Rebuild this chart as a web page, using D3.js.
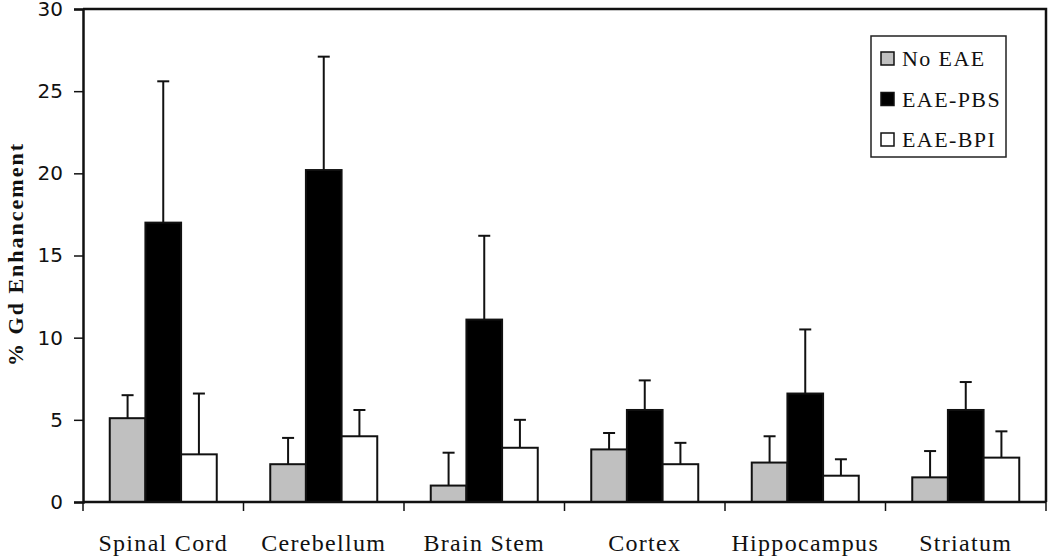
<!DOCTYPE html>
<html>
<head>
<meta charset="utf-8">
<script src="https://cdn.jsdelivr.net/npm/d3@7"></script>
<style>
  body { margin: 0; background: #fff; }
  svg { display: block; }
</style>
</head>
<body>
<div id="chart"></div>
<script>
const regions = ['Spinal Cord', 'Cerebellum', 'Brain Stem', 'Cortex', 'Hippocampus', 'Striatum'];
const groups = ['No EAE', 'EAE-PBS', 'EAE-BPI'];
const noEae = [5.1, 2.3, 1.0, 3.2, 2.4, 1.5];
const eaePbs = [17.0, 20.2, 11.1, 5.6, 6.6, 5.6];
const eaeBpi = [2.9, 4.0, 3.3, 2.3, 1.6, 2.7];
const noEaeErr = [1.4, 1.6, 2.0, 1.0, 1.6, 1.6];
const eaePbsErr = [8.6, 6.9, 5.1, 1.8, 3.9, 1.7];
const eaeBpiErr = [3.7, 1.6, 1.7, 1.3, 1.0, 1.6];
const yTicks = [0, 5, 10, 15, 20, 25, 30];

const fills = { 'No EAE': '#c0c0c0', 'EAE-PBS': '#000000', 'EAE-BPI': '#ffffff' };
const values = [noEae, eaePbs, eaeBpi];
const errs = [noEaeErr, eaePbsErr, eaeBpiErr];

const data = [];
regions.forEach((r, i) => {
  groups.forEach((g, j) => {
    data.push({ region: r, group: g, value: values[j][i], err: errs[j][i] });
  });
});

const W = 1050, H = 559;
const margin = { top: 9, right: 4, bottom: 57, left: 83 };

const svg = d3.select('#chart').append('svg')
  .attr('width', W)
  .attr('height', H);

const x = d3.scaleBand()
  .domain(regions)
  .range([margin.left, W - margin.right])
  .padding(0);

const x1 = d3.scaleBand()
  .domain(groups)
  .range([0, x.bandwidth()])
  .paddingInner(0)
  .paddingOuter(0.75);

const y = d3.scaleLinear()
  .domain([0, 30])
  .range([H - margin.bottom, margin.top]);

const serif = "'Liberation Serif', 'DejaVu Serif', serif";

// frame top and right
svg.append('path')
  .attr('d', `M${margin.left},${margin.top}H${W - margin.right}V${y(0)}`)
  .attr('fill', 'none')
  .attr('stroke', '#111')
  .attr('stroke-width', 2.5);

// y axis
const yAxis = svg.append('g')
  .attr('transform', `translate(${margin.left},0)`)
  .call(d3.axisLeft(y).tickValues(yTicks).tickSize(9).tickPadding(11));
yAxis.select('.domain').attr('stroke', '#111').attr('stroke-width', 2.5);
yAxis.selectAll('.tick line').attr('stroke', '#111').attr('stroke-width', 1.5);
yAxis.selectAll('.tick text')
  .style('font-family', "'DejaVu Sans', sans-serif")
  .style('font-size', '20px')
  .attr('fill', '#111');

// bars
const bars = svg.append('g');
bars.selectAll('rect')
  .data(data)
  .enter().append('rect')
  .attr('x', d => x(d.region) + x1(d.group))
  .attr('y', d => y(d.value))
  .attr('width', x1.bandwidth())
  .attr('height', d => y(0) - y(d.value))
  .attr('fill', d => fills[d.group])
  .attr('stroke', '#111')
  .attr('stroke-width', 2);

// error bars (upper only)
const eb = svg.append('g').attr('stroke', '#111').attr('stroke-width', 2);
eb.selectAll('line.v')
  .data(data)
  .enter().append('line')
  .attr('class', 'v')
  .attr('x1', d => x(d.region) + x1(d.group) + x1.bandwidth() / 2)
  .attr('x2', d => x(d.region) + x1(d.group) + x1.bandwidth() / 2)
  .attr('y1', d => y(d.value))
  .attr('y2', d => y(d.value + d.err));
eb.selectAll('line.cap')
  .data(data)
  .enter().append('line')
  .attr('class', 'cap')
  .attr('x1', d => x(d.region) + x1(d.group) + x1.bandwidth() / 2 - 6)
  .attr('x2', d => x(d.region) + x1(d.group) + x1.bandwidth() / 2 + 6)
  .attr('y1', d => y(d.value + d.err))
  .attr('y2', d => y(d.value + d.err));

// x axis: line with ticks on category boundaries
const xAxis = svg.append('g');
xAxis.append('line')
  .attr('x1', margin.left).attr('x2', W - margin.right)
  .attr('y1', y(0)).attr('y2', y(0))
  .attr('stroke', '#111').attr('stroke-width', 2.5);
const bounds = regions.map(r => x(r)).concat([x.range()[1]]);
xAxis.selectAll('line.tick')
  .data(bounds)
  .enter().append('line')
  .attr('class', 'tick')
  .attr('x1', d => d).attr('x2', d => d)
  .attr('y1', y(0)).attr('y2', y(0) + 9)
  .attr('stroke', '#111').attr('stroke-width', 1.5);
xAxis.selectAll('text')
  .data(regions)
  .enter().append('text')
  .attr('x', d => x(d) + x.bandwidth() / 2)
  .attr('y', 551)
  .attr('text-anchor', 'middle')
  .style('font-family', serif)
  .style('font-size', '24px')
  .style('letter-spacing', '1.3px')
  .attr('fill', '#111')
  .text(d => d);

// y label
svg.append('text')
  .attr('transform', 'translate(23,254) rotate(-90)')
  .attr('text-anchor', 'middle')
  .style('font-family', serif)
  .style('font-weight', 'bold')
  .style('font-size', '22px')
  .style('letter-spacing', '2px')
  .attr('fill', '#111')
  .text('% Gd Enhancement');

// legend
const legend = svg.append('g').attr('transform', 'translate(871,36)');
legend.append('rect')
  .attr('width', 135).attr('height', 121)
  .attr('fill', '#fff')
  .attr('stroke', '#222').attr('stroke-width', 1.5);
const item = legend.selectAll('g.item')
  .data(groups)
  .enter().append('g')
  .attr('class', 'item')
  .attr('transform', (d, i) => `translate(10,${22.5 + i * 40.5})`);
item.append('rect')
  .attr('x', 0).attr('y', -6.5)
  .attr('width', 13).attr('height', 13)
  .attr('fill', d => fills[d])
  .attr('stroke', '#111').attr('stroke-width', 1.5);
item.append('text')
  .attr('x', 21)
  .attr('dy', '0.35em')
  .style('font-family', serif)
  .style('font-size', '22px')
  .style('letter-spacing', '1.4px')
  .attr('fill', '#111')
  .text(d => d);
</script>
</body>
</html>
